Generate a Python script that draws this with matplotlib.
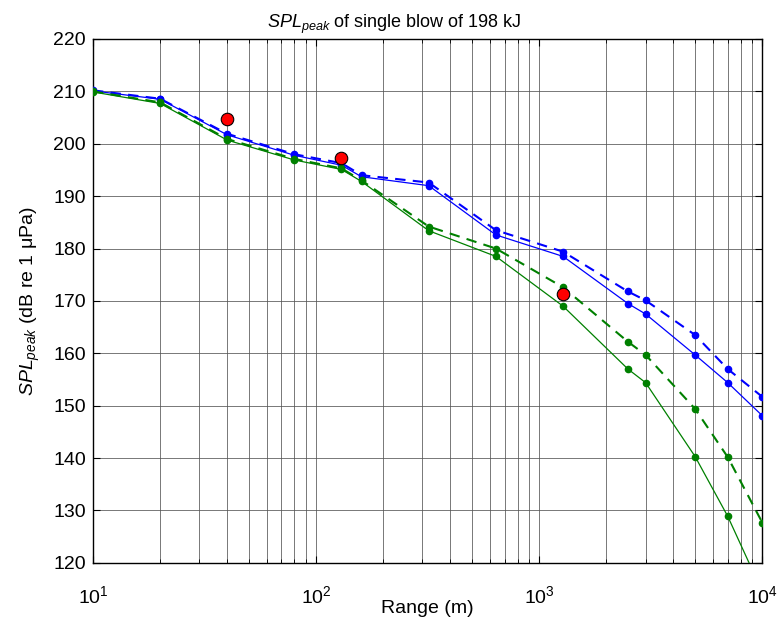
import matplotlib
matplotlib.use("Agg")
import matplotlib.pyplot as plt
from matplotlib.ticker import LogLocator, NullFormatter, FixedLocator

plt.rcParams['font.family'] = ['Liberation Sans', 'DejaVu Sans']
plt.rcParams['mathtext.fontset'] = 'custom'
plt.rcParams['mathtext.rm'] = 'Liberation Sans'
plt.rcParams['mathtext.it'] = 'Liberation Sans:italic'

ranges = [10, 20, 40, 80, 130, 160, 320, 640, 1280, 2500, 3000, 5000, 7000, 10000]
blue_solid = [210.1, 208.5, 201.7, 197.8, 195.9, 193.7, 192.0, 182.6, 178.5, 169.5, 167.5, 159.7, 154.4, 148.1]
blue_dashed = [210.2, 208.6, 201.9, 198.0, 196.3, 194.0, 192.6, 183.5, 179.4, 171.8, 170.1, 163.5, 157.0, 151.7]
green_solid = [209.9, 207.7, 200.7, 196.9, 195.1, 192.8, 183.4, 178.5, 169.0, 157.0, 154.4, 140.3, 128.9, 114.5]
green_dashed = [210.0, 207.9, 200.9, 197.1, 195.3, 193.0, 184.2, 180.0, 172.6, 162.2, 159.7, 149.4, 140.2, 127.7]
meas_range = [40, 130, 1280]
meas_spl = [204.7, 197.3, 171.4]

fig = plt.figure(figsize=(7.81, 6.24), dpi=100)
ax = fig.add_axes([0.119, 0.098, 0.857, 0.8395])

ax.plot(ranges, blue_solid, '-', color='#0000ff', lw=0.9, marker='o', ms=4.5, mec='#0000ff', zorder=3)
ax.plot(ranges, blue_dashed, '--', color='#0000ff', lw=1.5, dashes=(5, 3.5), marker='o', ms=4.5, mec='#0000ff', zorder=3)
ax.plot(ranges, green_solid, '-', color='#008000', lw=0.9, marker='o', ms=4.5, mec='#008000', zorder=3)
ax.plot(ranges, green_dashed, '--', color='#008000', lw=1.5, dashes=(5, 3.5), marker='o', ms=4.5, mec='#008000', zorder=3)
ax.plot(meas_range, meas_spl, 'o', color='#ff0000', mec='black', mew=0.8, ms=9, zorder=4)

ax.set_xscale('log')
ax.set_xlim(10, 10000)
ax.set_ylim(120, 220)
ax.yaxis.set_major_locator(FixedLocator(list(range(120, 221, 10))))
ax.xaxis.set_major_locator(LogLocator(base=10, numticks=10))
ax.xaxis.set_minor_locator(LogLocator(base=10, subs=range(2, 10), numticks=50))
ax.xaxis.set_minor_formatter(NullFormatter())

ax.grid(True, which='major', color='#555555', lw=0.7, alpha=0.8)
ax.grid(True, which='minor', axis='x', color='#555555', lw=0.7, alpha=0.8)
ax.set_axisbelow(True)

ax.tick_params(which='both', direction='in', top=True, right=True, labelsize=14)
ax.tick_params(which='major', length=5)
ax.tick_params(which='minor', length=3)
ax.tick_params(axis='x', which='both', pad=16)
ax.tick_params(axis='y', which='both', pad=5)
for s in ax.spines.values():
    s.set_linewidth(1.0)

ax.set_title(r'$\mathit{SPL}_{\mathit{peak}}$ of single blow of 198 kJ', fontsize=13, x=0.45, pad=8)
ax.set_xlabel('Range (m)', fontsize=14, labelpad=-5)
ax.set_ylabel(r'$\mathit{SPL}_{\mathit{peak}}$ (dB re 1 μPa)', fontsize=14, labelpad=8)

fig.savefig('out.png', dpi=100)
